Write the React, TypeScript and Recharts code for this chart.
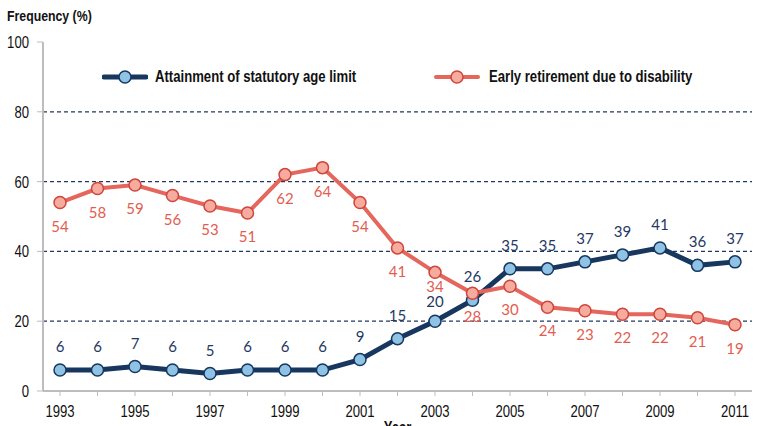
import React from 'react';
import { LineChart, Line, XAxis, YAxis, ReferenceLine, LabelList } from 'recharts';

const years = [1993, 1994, 1995, 1996, 1997, 1998, 1999, 2000, 2001, 2002, 2003, 2004, 2005, 2006, 2007, 2008, 2009, 2010, 2011];
const statutory = [6, 6, 7, 6, 5, 6, 6, 6, 9, 15, 20, 26, 35, 35, 37, 39, 41, 36, 37];
const disability = [54, 58, 59, 56, 53, 51, 62, 64, 54, 41, 34, 28, 30, 24, 23, 22, 22, 21, 19];
const yTicks = [0, 20, 40, 60, 80, 100];
const gridValues = [20, 40, 60, 80];
const xLabelYears = [1993, 1995, 1997, 1999, 2001, 2003, 2005, 2007, 2009, 2011];

const seriesNames = {
  statutory: 'Attainment of statutory age limit',
  disability: 'Early retirement due to disability',
};

const data = years.map((y, i) => ({ year: y, statutory: statutory[i], disability: disability[i] }));

const NAVY = '#17375e';
const NAVY_FILL = '#8fc3e6';
const RED = '#e4665c';
const RED_FILL = '#f6ab9f';
const RED_STROKE = '#d0443a';
const SANS = "'Liberation Sans', Arial, sans-serif";
const NARROW = 0.82;
const LABEL_FONT = "Lato, 'Open Sans', sans-serif";

const isCrowded = (i: number) => {
  const diff = disability[i] - statutory[i];
  return diff > 5 && diff < 20;
};

const BlueLabel = (props: any) => {
  const { x, y, value, index } = props;
  const dy = isCrowded(index) ? -14 : -18;
  return (
    <text x={x} y={y + dy} textAnchor="middle" fill="#1f3864" fontSize={15} fontFamily={LABEL_FONT}>
      {value}
    </text>
  );
};

const RedLabel = (props: any) => {
  const { x, y, value, index } = props;
  const dy = isCrowded(index) ? 20 : 29;
  return (
    <text x={x} y={y + dy} textAnchor="middle" fill="#e35d4f" fontSize={15} fontFamily={LABEL_FONT}>
      {value}
    </text>
  );
};

const NarrowText = ({ x, y, anchor, children, size = 16, weight = 400 }: any) => (
  <text
    transform={`translate(${x},${y}) scale(${NARROW},1)`}
    textAnchor={anchor}
    fill="#111"
    fontSize={size}
    fontWeight={weight}
    fontFamily={SANS}
  >
    {children}
  </text>
);

const XTick = (props: any) => {
  const { x, y, payload } = props;
  if (!xLabelYears.includes(payload.value)) return null;
  return (
    <NarrowText x={x} y={y + 21} anchor="middle">
      {payload.value}
    </NarrowText>
  );
};

const YTick = (props: any) => {
  const { x, y, payload } = props;
  return (
    <NarrowText x={x} y={y + 6} anchor="end">
      {payload.value}
    </NarrowText>
  );
};

const YearLabel = (props: any) => {
  const { viewBox } = props;
  const cx = viewBox.x + viewBox.width / 2;
  return (
    <NarrowText x={cx} y={viewBox.y + 42} anchor="middle" weight={700}>
      Year
    </NarrowText>
  );
};

const LegendIcon = ({ color, fill, stroke, width }: any) => (
  <svg width={46} height={16} style={{ display: 'block' }}>
    <line x1={2} y1={8} x2={44} y2={8} stroke={color} strokeWidth={width} strokeLinecap="round" />
    <circle cx={23} cy={8} r={6} fill={fill} stroke={stroke} strokeWidth={1.5} />
  </svg>
);

const narrowDiv = (left: number, top: number, size: number): React.CSSProperties => ({
  position: 'absolute',
  left,
  top,
  fontFamily: SANS,
  fontWeight: 700,
  fontSize: size,
  color: '#111',
  whiteSpace: 'nowrap',
  transform: `scale(${NARROW},1)`,
  transformOrigin: 'left center',
  lineHeight: '18px',
});

const ChartLegend = () => (
  <div style={{ position: 'absolute', left: 0, top: 68, width: 760, height: 18 }}>
    <div style={{ position: 'absolute', left: 102, top: 1 }}>
      <LegendIcon color={NAVY} fill={NAVY_FILL} stroke={NAVY} width={5} />
    </div>
    <div style={narrowDiv(155, 0, 16)}>{seriesNames.statutory}</div>
    <div style={{ position: 'absolute', left: 434, top: 1 }}>
      <LegendIcon color={RED} fill={RED_FILL} stroke={RED_STROKE} width={4} />
    </div>
    <div style={narrowDiv(489, 0, 16)}>{seriesNames.disability}</div>
  </div>
);

export default function App() {
  return (
    <div style={{ position: 'absolute', left: 0, top: 0, width: 760, height: 426, background: '#fff', overflow: 'hidden' }}>
      <LineChart width={760} height={426} data={data} margin={{ top: 42, right: 8, left: 0, bottom: 0 }}>
        <XAxis
          dataKey="year"
          type="number"
          domain={[1993, 2011]}
          ticks={years}
          interval={0}
          padding={{ left: 17, right: 17 }}
          height={35}
          axisLine={{ stroke: '#bdbdbd', strokeWidth: 2 }}
          tickLine={{ stroke: '#bdbdbd' }}
          tickSize={5}
          tickMargin={0}
          tick={XTick}
          label={YearLabel}
        />
        <XAxis xAxisId="top" orientation="top" dataKey="year" type="number" domain={[1993, 2011]} height={0} tick={false} tickLine={false} axisLine={{ stroke: '#555', strokeWidth: 2 }} />
        <YAxis
          domain={[0, 100]}
          ticks={yTicks}
          width={43}
          axisLine={{ stroke: '#bdbdbd', strokeWidth: 2 }}
          tickLine={{ stroke: '#bdbdbd' }}
          tickSize={6}
          tickMargin={8}
          tick={YTick}
        />
        <YAxis yAxisId="right" orientation="right" domain={[0, 100]} width={0} tick={false} tickLine={false} axisLine={{ stroke: '#444', strokeWidth: 2 }} />
        {gridValues.map((g) => (
          <ReferenceLine key={g} y={g} stroke="#1f3864" strokeDasharray="4 3" strokeWidth={1.3} />
        ))}
        <Line
          dataKey="statutory"
          name={seriesNames.statutory}
          stroke={NAVY}
          strokeWidth={5}
          dot={{ r: 6, fill: NAVY_FILL, stroke: NAVY, strokeWidth: 1.5 }}
          activeDot={false}
          isAnimationActive={false}
        >
          <LabelList dataKey="statutory" content={BlueLabel} />
        </Line>
        <Line
          dataKey="disability"
          name={seriesNames.disability}
          stroke={RED}
          strokeWidth={4}
          dot={{ r: 6, fill: RED_FILL, stroke: RED_STROKE, strokeWidth: 1.5 }}
          activeDot={false}
          isAnimationActive={false}
        >
          <LabelList dataKey="disability" content={RedLabel} />
        </Line>
      </LineChart>
      <ChartLegend />
      <div style={narrowDiv(7, 7, 15)}>Frequency (%)</div>
    </div>
  );
}
